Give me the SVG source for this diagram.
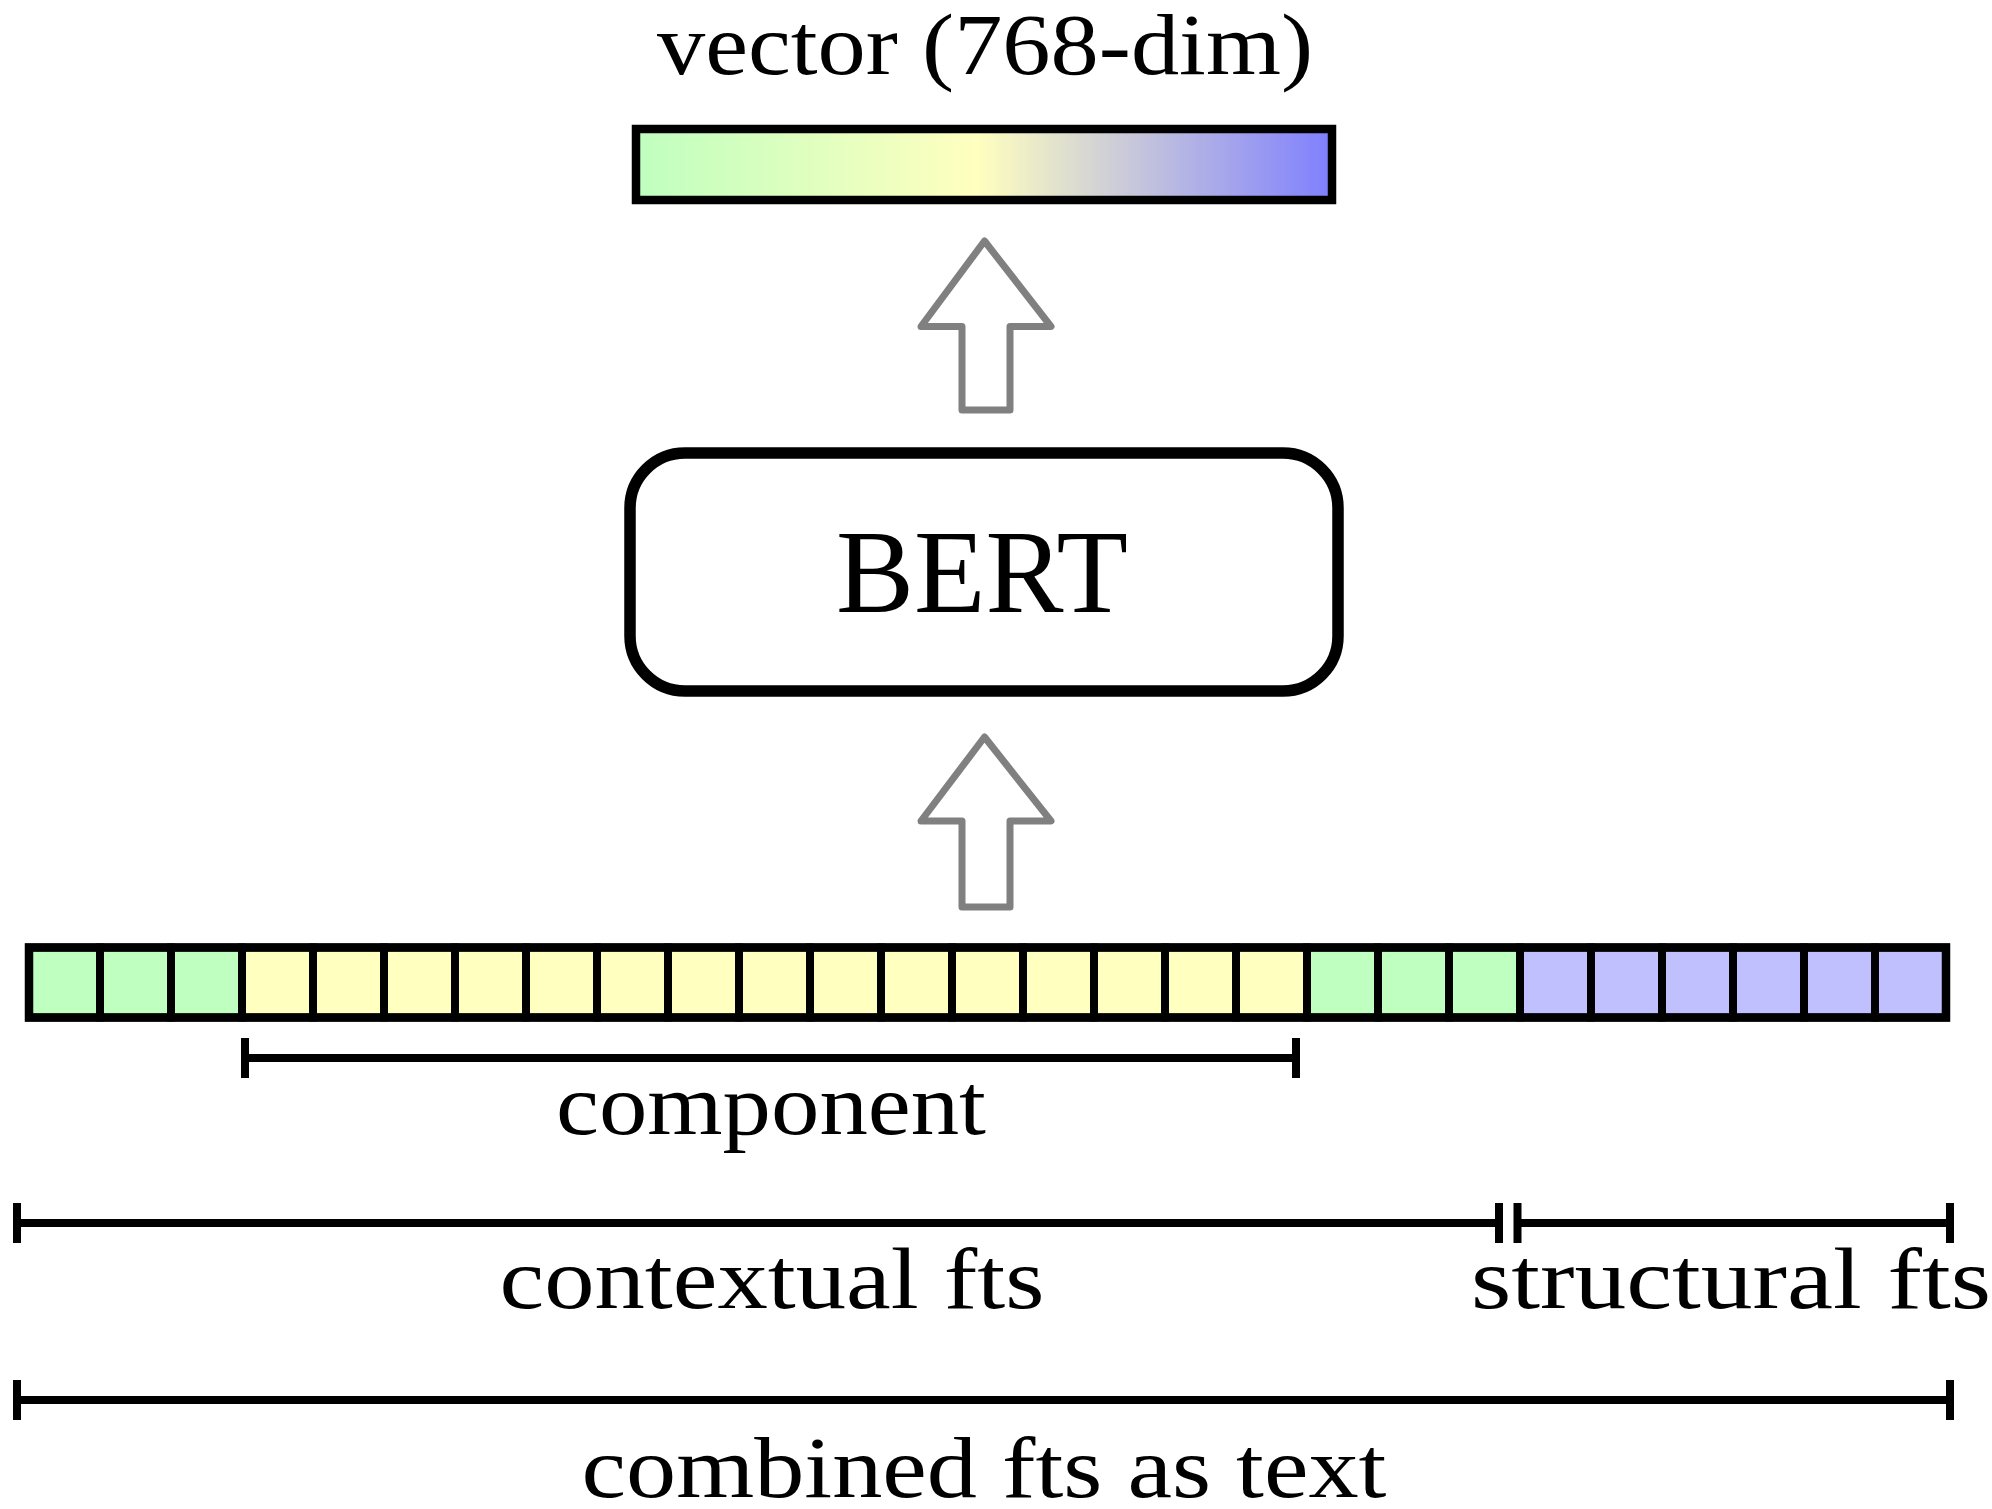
<svg xmlns="http://www.w3.org/2000/svg" width="1992" height="1509" viewBox="0 0 1992 1509">
<style>
text{font-family:"Liberation Serif","DejaVu Serif",serif;fill:#000;}
.lbl{font-size:86px;text-anchor:middle;}
.big{font-size:118px;text-anchor:middle;}
.cell{stroke:#000;stroke-width:8;}
.g{fill:#BFFFBF;}
.y{fill:#FFFFC0;}
.b{fill:#C0C0FF;}
.arrow{fill:#fff;stroke:#808080;stroke-width:7;stroke-linejoin:round;}
.br{stroke:#000;stroke-width:8;fill:none;}
</style>
<defs>
<linearGradient id="vg" x1="0" y1="0" x2="1" y2="0">
<stop offset="0" stop-color="#BFFFBF"/>
<stop offset="0.49" stop-color="#FFFFBF"/>
<stop offset="1" stop-color="#7F7FFF"/>
</linearGradient>
</defs>

<g id="vector">
<rect x="636" y="129" width="696" height="71" fill="url(#vg)" stroke="#000" stroke-width="8.5"/>
<text class="lbl" x="985" y="74" textLength="656" lengthAdjust="spacingAndGlyphs">vector (768-dim)</text>
</g>

<g id="bert">
<rect x="630" y="453" width="708" height="238" rx="55" ry="55" fill="#fff" stroke="#000" stroke-width="11.5"/>
<text class="big" x="982" y="612" textLength="292" lengthAdjust="spacingAndGlyphs">BERT</text>
</g>

<g id="connectors">
<path class="arrow" d="M984.5,241 L1051,326.5 L1010,326.5 L1010,410 L962,410 L962,326.5 L921,326.5 Z"/>
<path class="arrow" d="M984.5,737 L1051,821 L1010,821 L1010,907 L962,907 L962,821 L921,821 Z"/>
</g>

<g id="token-bar">
<rect class="cell g" x="29" y="947.5" width="71" height="70"/>
<rect class="cell g" x="100" y="947.5" width="71" height="70"/>
<rect class="cell g" x="171" y="947.5" width="71" height="70"/>
<rect class="cell y" x="242" y="947.5" width="71" height="70"/>
<rect class="cell y" x="313" y="947.5" width="71" height="70"/>
<rect class="cell y" x="384" y="947.5" width="71" height="70"/>
<rect class="cell y" x="455" y="947.5" width="71" height="70"/>
<rect class="cell y" x="526" y="947.5" width="71" height="70"/>
<rect class="cell y" x="597" y="947.5" width="71" height="70"/>
<rect class="cell y" x="668" y="947.5" width="71" height="70"/>
<rect class="cell y" x="739" y="947.5" width="71" height="70"/>
<rect class="cell y" x="810" y="947.5" width="71" height="70"/>
<rect class="cell y" x="881" y="947.5" width="71" height="70"/>
<rect class="cell y" x="952" y="947.5" width="71" height="70"/>
<rect class="cell y" x="1023" y="947.5" width="71" height="70"/>
<rect class="cell y" x="1094" y="947.5" width="71" height="70"/>
<rect class="cell y" x="1165" y="947.5" width="71" height="70"/>
<rect class="cell y" x="1236" y="947.5" width="71" height="70"/>
<rect class="cell g" x="1307" y="947.5" width="71" height="70"/>
<rect class="cell g" x="1378" y="947.5" width="71" height="70"/>
<rect class="cell g" x="1449" y="947.5" width="71" height="70"/>
<rect class="cell b" x="1520" y="947.5" width="71" height="70"/>
<rect class="cell b" x="1591" y="947.5" width="71" height="70"/>
<rect class="cell b" x="1662" y="947.5" width="71" height="70"/>
<rect class="cell b" x="1733" y="947.5" width="71" height="70"/>
<rect class="cell b" x="1804" y="947.5" width="71" height="70"/>
<rect class="cell b" x="1875" y="947.5" width="71" height="70"/>
<rect x="29" y="947.5" width="1917" height="70" fill="none" stroke="#000" stroke-width="8.5"/>
</g>

<g id="component">
<path class="br" d="M245,1058 H1296 M245,1038 V1078 M1296,1038 V1078"/>
<text class="lbl" x="771" y="1134" textLength="430" lengthAdjust="spacingAndGlyphs">component</text>
</g>

<g id="contextual">
<path class="br" d="M17,1223 H1499 M17,1203 V1243 M1499,1203 V1243"/>
<text class="lbl" x="772" y="1308" textLength="545" lengthAdjust="spacingAndGlyphs">contextual fts</text>
</g>

<g id="structural">
<path class="br" d="M1517.5,1223 H1950 M1517.5,1203 V1243 M1950,1203 V1243"/>
<text class="lbl" x="1731" y="1308" textLength="520" lengthAdjust="spacingAndGlyphs">structural fts</text>
</g>

<g id="combined">
<path class="br" d="M17,1400 H1950 M17,1380 V1420 M1950,1380 V1420"/>
<text class="lbl" x="984" y="1497" textLength="805" lengthAdjust="spacingAndGlyphs">combined fts as text</text>
</g>
</svg>
